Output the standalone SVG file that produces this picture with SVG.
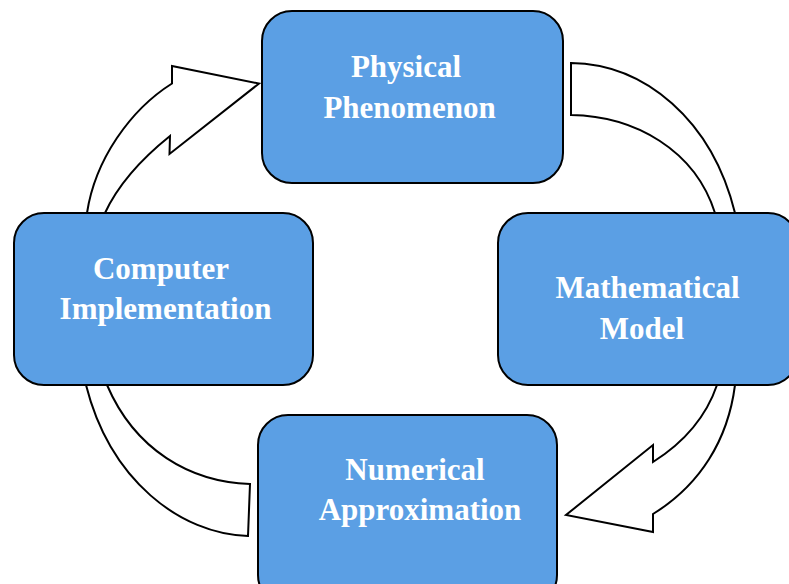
<svg xmlns="http://www.w3.org/2000/svg" width="789" height="584" viewBox="0 0 789 584">
<style>
.box{fill:#5B9FE4;stroke:#000;stroke-width:2}
.arr{fill:#fff;stroke:#000;stroke-width:2;stroke-linejoin:miter}
.lbl{font-family:"Liberation Serif","Times New Roman",serif;font-weight:bold;font-size:31px;fill:#fff;text-anchor:middle}
</style>
<rect width="789" height="584" fill="#fff"/>
<g id="connectors">
<path class="arr" d="M 103 240 L 105 213 C 118 185, 140 160, 170 136 L 169.5 154 L 259 83.5 L 172 66 L 172 83.5 C 130 110, 95 160, 87 213 L 85 240 Z"/>
<path class="arr" d="M 571 63 C 645 64, 712 120, 735 213 L 738 240 L 719 240 L 715 213 C 695 150, 635 116, 571 115 Z"/>
<path class="arr" d="M 719 360 L 717 385 C 705 420, 680 445, 653 462 L 653 445 L 566 515 L 653 532 L 653 514 C 700 485, 728 440, 735 385 L 737 360 Z"/>
<path class="arr" d="M 250 484 L 248 536 C 180 534, 110 480, 86 385 L 82 360 L 102 360 L 107 385 C 135 450, 190 482, 250 484 Z"/>
</g>
<g id="node-physical">
<rect class="box" x="262" y="11" width="301" height="172" rx="30" ry="30"/>
<text class="lbl" x="406" y="77">Physical</text>
<text class="lbl" x="409.5" y="118">Phenomenon</text>
</g>
<g id="node-mathematical">
<rect class="box" x="498" y="213" width="300" height="172" rx="30" ry="30"/>
<text class="lbl" x="647.5" y="298">Mathematical</text>
<text class="lbl" x="642" y="339">Model</text>
</g>
<g id="node-numerical">
<rect class="box" x="258" y="415" width="299" height="190" rx="30" ry="30"/>
<text class="lbl" x="415" y="480">Numerical</text>
<text class="lbl" x="420" y="520">Approximation</text>
</g>
<g id="node-computer">
<rect class="box" x="14" y="213" width="299" height="172" rx="30" ry="30"/>
<text class="lbl" x="161" y="279">Computer</text>
<text class="lbl" x="165.5" y="319">Implementation</text>
</g>
</svg>
